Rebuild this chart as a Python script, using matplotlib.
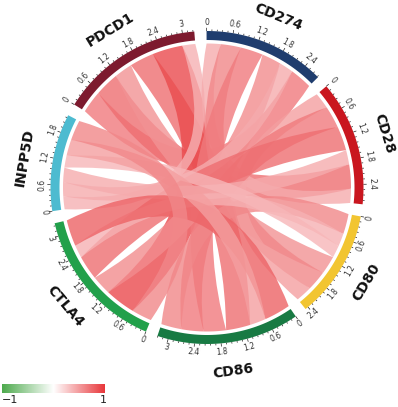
import matplotlib

matplotlib.use("Agg")
import matplotlib.pyplot as plt
import numpy as np
from matplotlib.collections import LineCollection
from matplotlib.colors import LinearSegmentedColormap
from matplotlib.patches import PathPatch, Polygon
from matplotlib.path import Path

# ---- data ----
genes = ["PDCD1", "CD274", "CD28", "CD80", "CD86", "CTLA4", "INPP5D"]
gene_colors = ["#7D1A2E", "#1F3D6E", "#C9161F", "#F2C531", "#187A43", "#22A04B", "#4DBBD0"]
# pairwise correlations, upper triangle (row i with columns i+1..)
corr_pdcd1 = [0.55, 0.60, 0.45, 0.60, 0.75, 0.32]
corr_cd274 = [0.35, 0.50, 0.55, 0.48, 0.35]
corr_cd28 = [0.40, 0.55, 0.60, 0.35]
corr_cd80 = [0.50, 0.32, 0.30]
corr_cd86 = [0.65, 0.40]
corr_ctla4 = [0.50]
major_ticks = [0, 0.6, 1.2, 1.8, 2.4, 3.0]
legend_labels = ["\u22121", "1"]

n = len(genes)
corr = np.zeros((n, n))
for i, row in enumerate([corr_pdcd1, corr_cd274, corr_cd28, corr_cd80, corr_cd86, corr_ctla4]):
    for k, v in enumerate(row):
        corr[i, i + 1 + k] = corr[i + 1 + k, i] = v

# ---- layout ----
cx, cy = 207, 187.5
r_link, r_in, r_out = 144, 147.5, 156.5
gap = 4.5
start_deg = 148.0
h_ratio = 0.55
totals = corr.sum(axis=1)
dpu = (360 - n * gap) / totals.sum()

sec_start, sec_end = [], []
s = start_deg
for t in totals:
    sec_start.append(s)
    sec_end.append(s - t * dpu)
    s = s - t * dpu - gap


def xy(r, deg):
    a = np.radians(deg)
    return cx + r * np.cos(a), cy - r * np.sin(a)


def arc(r, a1, a2, num=40):
    th = np.linspace(a1, a2, num)
    x, y = xy(r, th)
    return list(zip(x, y))


def rot(deg):
    r = (deg - 90) % 360
    if r > 180:
        r -= 360
    if r > 90:
        r -= 180
    elif r < -90:
        r += 180
    return r


# link ends inside each sector: partners clockwise, starting with the next sector
seg = {}
for i in range(n):
    cur = sec_start[i]
    for step in range(1, n):
        j = (i + step) % n
        w = corr[i, j] * dpu
        seg[(i, j)] = (cur, cur - w)
        cur -= w

cmap = LinearSegmentedColormap.from_list("cor", ["#4DAA4D", "#FFFFFF", "#E8373B"])

fig = plt.figure(figsize=(3.98, 4.07), dpi=100)
ax = fig.add_axes([0, 0, 1, 1])
ax.set_xlim(0, 398)
ax.set_ylim(407, 0)
ax.axis("off")


def ribbon(a1, a2, b1, b2):
    # both borders bow by the same height, so the ribbon keeps its width
    ma, mb = (a1 + a2) / 2, (b1 + b2) / 2
    pa_m, pb_m = np.array(xy(r_link, ma)), np.array(xy(r_link, mb))
    mid = (pa_m + pb_m) / 2 - np.array([cx, cy])
    dist = np.hypot(*mid)
    if dist < 1e-6:
        d = pb_m - pa_m
        u = np.array([-d[1], d[0]]) / np.hypot(*d)
    else:
        u = -mid / dist
    h = h_ratio * dist + 0.1 * r_link
    pa = arc(r_link, a1, a2)
    pb = arc(r_link, b1, b2)
    c1 = (np.array(pa[-1]) + np.array(pb[0])) / 2 + 2 * h * u
    c2 = (np.array(pb[-1]) + np.array(pa[0])) / 2 + 2 * h * u
    verts = pa + [tuple(c1), pb[0]] + pb[1:] + [tuple(c2), pa[0], pa[0]]
    codes = ([Path.MOVETO] + [Path.LINETO] * (len(pa) - 1) + [Path.CURVE3, Path.CURVE3]
             + [Path.LINETO] * (len(pb) - 1) + [Path.CURVE3, Path.CURVE3, Path.CLOSEPOLY])
    return Path(verts, codes)


# ---- chords ----
pairs = [(i, j) for i in range(n) for j in range(i + 1, n)]
for i, j in pairs:
    a1, a2 = seg[(i, j)]
    b1, b2 = seg[(j, i)]
    col = cmap(min(1.0, (corr[i, j] * 1.2 + 1) / 2))
    ax.add_patch(PathPatch(ribbon(a1, a2, b1, b2), facecolor=col, edgecolor="none", alpha=0.8))

# ---- sector bands, ticks, labels ----
ticks = []
for i, g in enumerate(genes):
    a1, a2 = sec_start[i], sec_end[i]
    ax.add_patch(Polygon(arc(r_out, a1, a2) + arc(r_in, a2, a1), closed=True,
                         facecolor=gene_colors[i], edgecolor="none"))
    vals = np.arange(0, totals[i] + 1e-9, 0.12)
    for v in vals:
        d = a1 - v * dpu
        major = any(abs(v - m) < 1e-6 for m in major_ticks)
        x0, y0 = xy(r_out, d)
        x1, y1 = xy(r_out + (3.2 if major else 1.6), d)
        ticks.append([(x0, y0), (x1, y1)])
    for m in major_ticks:
        if m <= totals[i]:
            d = a1 - m * dpu
            tx, ty = xy(r_out + 8.5, d)
            ax.text(tx, ty, f"{m:g}", fontsize=5.5, color="#333333",
                    rotation=rot(d), ha="center", va="center")
    mid = (a1 + a2) / 2
    tx, ty = xy(185, mid)
    ax.text(tx, ty, g, fontsize=10, fontweight="bold", color="#111111",
            rotation=rot(mid), ha="center", va="center")
ax.add_collection(LineCollection(ticks, colors="#222222", linewidths=0.5))

# ---- colour legend ----
grad = np.linspace(0, 1, 256).reshape(1, -1)
ax.imshow(grad, cmap=cmap, extent=(2, 105, 393, 384), aspect="auto")
ax.set_xlim(0, 398)
ax.set_ylim(407, 0)
ax.text(2, 400, legend_labels[0], fontsize=8, ha="left", va="center", color="#222222")
ax.text(103, 400, legend_labels[1], fontsize=8, ha="center", va="center", color="#222222")

fig.savefig("out.png", dpi=100)
